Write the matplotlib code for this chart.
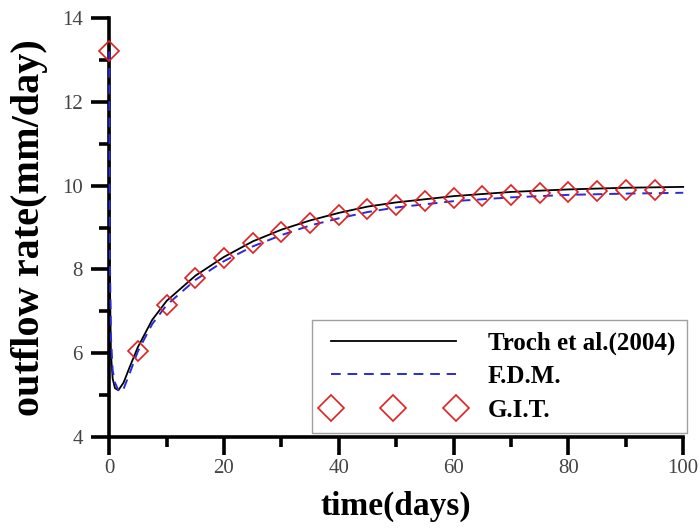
import matplotlib
matplotlib.use("Agg")
import matplotlib.pyplot as plt
from matplotlib.ticker import MultipleLocator

plt.rcParams['font.family'] = ['Liberation Serif', 'DejaVu Serif']

# Troch et al. (2004) analytical solution
t_troch = [0, 0.1, 0.3, 0.6, 1.0, 1.6, 2.5, 3.5, 5, 7.5, 10, 15, 20, 25, 30, 35,
           40, 45, 50, 60, 70, 80, 90, 100]
q_troch = [13.2, 8.0, 6.0, 5.4, 5.17, 5.12, 5.3, 5.65, 6.15, 6.8, 7.25, 7.85, 8.3,
           8.67, 8.95, 9.17, 9.35, 9.5, 9.6, 9.75, 9.85, 9.91, 9.95, 9.97]

# finite difference method
t_fdm = [0, 0.1, 0.3, 0.6, 1.0, 1.6, 2.0, 2.5, 3.5, 5, 7.5, 10, 15, 20, 25, 30,
         35, 40, 45, 50, 60, 70, 80, 90, 100]
q_fdm = [13.2, 8.5, 6.4, 5.6, 5.3, 5.12, 5.08, 5.15, 5.5, 6.05, 6.7, 7.15, 7.75,
         8.2, 8.55, 8.82, 9.05, 9.22, 9.37, 9.48, 9.63, 9.72, 9.78, 9.81, 9.83]

# generalized integral transform
t_git = [0, 5, 10, 15, 20, 25, 30, 35, 40, 45, 50, 55, 60, 65, 70, 75, 80, 85, 90, 95]
q_git = [13.2, 6.05, 7.15, 7.8, 8.27, 8.62, 8.9, 9.12, 9.3, 9.45, 9.55, 9.63, 9.7,
         9.75, 9.78, 9.82, 9.85, 9.87, 9.89, 9.9]

fig = plt.figure(figsize=(7, 5.28), dpi=100)
ax = fig.add_axes([0.156, 0.172, 0.82, 0.794])

ax.plot(t_troch, q_troch, color='black', lw=1.3, label='Troch et al.(2004)',
        clip_on=False, zorder=4)
ax.plot(t_fdm, q_fdm, color='#2a2ad8', lw=1.4, ls=(0, (5, 3.5)), label='F.D.M.',
        clip_on=False, zorder=5)
ax.plot(t_git, q_git, ls='none', marker='D', ms=10, mfc='none', mec='#e02020',
        mew=1.2, label='G.I.T.', clip_on=False, zorder=6)

ax.set_xlim(0, 100)
ax.set_ylim(4, 14)
ax.xaxis.set_major_locator(MultipleLocator(20))
ax.xaxis.set_minor_locator(MultipleLocator(10))
ax.yaxis.set_major_locator(MultipleLocator(2))
ax.yaxis.set_minor_locator(MultipleLocator(1))

for s in ['top', 'right']:
    ax.spines[s].set_visible(False)
for s in ['left', 'bottom']:
    ax.spines[s].set_linewidth(2.6)
ax.tick_params(which='major', direction='out', length=13, width=2.6, pad=3,
               labelsize=15, labelcolor='#444444')
ax.tick_params(axis='y', which='major', pad=6)
ax.tick_params(which='minor', direction='out', length=7, width=2.6)

ax.set_xlabel('time(days)', fontsize=24, fontweight='bold', labelpad=9)
ax.set_ylabel('outflow rate(mm/day)', fontsize=29, fontweight='bold', labelpad=10)

leg = ax.legend(loc='lower right', bbox_to_anchor=(1.006, 0.01), numpoints=3,
                handlelength=5.6, fancybox=False, borderpad=0.45, markerscale=1.35,
                prop={'weight': 'bold', 'size': 18}, labelspacing=0.42,
                handletextpad=1.0, borderaxespad=0.0)
leg.get_frame().set_edgecolor('#888888')
leg.get_frame().set_linewidth(1.0)

fig.savefig('out.png', dpi=100)
